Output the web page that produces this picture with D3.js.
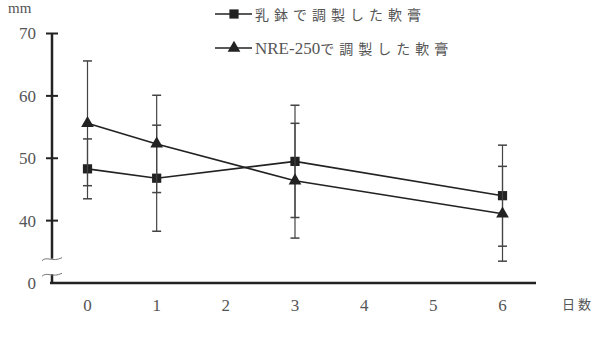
<!DOCTYPE html>
<html>
<head>
<meta charset="utf-8">
<script src="https://cdnjs.cloudflare.com/ajax/libs/d3/7.8.5/d3.min.js"></script>
<style>
  body { margin: 0; background: #fff; }
  svg { display: block; }
  .num { font-family: "Liberation Serif", "DejaVu Serif", "Times New Roman", serif; }
  .jp { font-family: "Noto Sans CJK JP", "Noto Sans CJK SC", sans-serif; }
</style>
</head>
<body>
<div class="svgContainer"></div>
<script>
// Data
var DAYS = [0, 1, 2, 3, 4, 5, 6];
var SERIES_LATIN = ["", "NRE-250"];
var SERIES_JP = ["乳鉢で調製した軟膏", "で調製した軟膏"];
var MORTAR_DAYS = [0, 1, 3, 6];
var MORTAR_MEAN = [48.3, 46.8, 49.5, 44.0];
var MORTAR_SD = [4.8, 8.5, 9.0, 8.1];
var NRE_DAYS = [0, 1, 3, 6];
var NRE_MEAN = [55.6, 52.3, 46.4, 41.1];
var NRE_SD = [10.0, 7.8, 9.2, 7.6];
var Y_TICKS = [0, 40, 50, 60, 70];
// End data

var margin = {left: 52, right: 64, top: 33.5, bottom: 54},
    width = 600 - margin.left - margin.right,
    height = 337 - margin.top - margin.bottom;

var svg = d3.select(".svgContainer").append("svg")
    .attr("width", 600)
    .attr("height", 337)
    .append("g")
    .attr("transform", "translate(" + margin.left + "," + margin.top + ")");

var INK = "#222";
var TXT = "#555";

// x: day 0 at 87.5px, day 6 at 502.5px (page coords)
var scaleX = d3.scaleLinear()
    .domain([0, 6])
    .range([87.5 - margin.left, 502.5 - margin.left]);

// broken axis: 0 sits where 30 would be
var scaleY = d3.scaleLinear()
    .domain([0, 30, 70])
    .range([height, height, 0]);

// y axis line with break
var yBreakTop = scaleY(33.9), yBreakBot = scaleY(31.4);
svg.append("line")
    .attr("x1", 0).attr("x2", 0)
    .attr("y1", 0).attr("y2", yBreakTop)
    .attr("stroke", INK).attr("stroke-width", 2.5);
svg.append("line")
    .attr("x1", 0).attr("x2", 0)
    .attr("y1", yBreakBot).attr("y2", height)
    .attr("stroke", INK).attr("stroke-width", 2.5);

// break squiggles
[yBreakTop, yBreakBot].forEach(function(yy) {
    svg.append("path")
        .attr("d", "M-10," + (yy + 2) + " C-5," + (yy - 3) + " 0," + (yy + 4) + " 10," + (yy - 1))
        .attr("fill", "none")
        .attr("stroke", "#777")
        .attr("stroke-width", 1);
});

// y ticks (crossing both sides)
svg.selectAll(".ytick")
    .data(Y_TICKS.filter(function(d) { return d > 0; }))
    .enter().append("line")
    .attr("x1", -6).attr("x2", 6)
    .attr("y1", function(d) { return scaleY(d); })
    .attr("y2", function(d) { return scaleY(d); })
    .attr("stroke", INK).attr("stroke-width", 2);

svg.selectAll(".ylab")
    .data(Y_TICKS)
    .enter().append("text")
    .attr("class", "num")
    .attr("x", -16)
    .attr("y", function(d) { return scaleY(d); })
    .attr("dy", "0.35em")
    .attr("text-anchor", "end")
    .attr("font-size", 17)
    .attr("fill", TXT)
    .text(function(d) { return d; });

// x axis line
svg.append("line")
    .attr("x1", -2).attr("x2", 536 - margin.left)
    .attr("y1", height).attr("y2", height)
    .attr("stroke", INK).attr("stroke-width", 2.5);

svg.selectAll(".xlab")
    .data(DAYS)
    .enter().append("text")
    .attr("class", "num")
    .attr("x", function(d) { return scaleX(d); })
    .attr("y", height + 22)
    .attr("dy", "0.35em")
    .attr("text-anchor", "middle")
    .attr("font-size", 17)
    .attr("fill", TXT)
    .text(function(d) { return d; });

// axis titles
svg.append("text")
    .attr("class", "num")
    .attr("x", 8 - margin.left)
    .attr("y", 13 - margin.top)
    .attr("font-size", 15)
    .attr("fill", TXT)
    .text("mm");

svg.append("text")
    .attr("class", "jp")
    .attr("x", 562 - margin.left)
    .attr("y", height + 21)
    .attr("dy", "0.35em")
    .attr("font-size", 13)
    .attr("letter-spacing", 3)
    .attr("fill", TXT)
    .text("日数");

// series
var series = [
    {latin: SERIES_LATIN[0], jp: SERIES_JP[0], days: MORTAR_DAYS, mean: MORTAR_MEAN, sd: MORTAR_SD, symbol: d3.symbolSquare, size: 85},
    {latin: SERIES_LATIN[1], jp: SERIES_JP[1], days: NRE_DAYS, mean: NRE_MEAN, sd: NRE_SD, symbol: d3.symbolTriangle, size: 70}
];

var line = d3.line()
    .x(function(d) { return scaleX(d.day); })
    .y(function(d) { return scaleY(d.mean); });

series.forEach(function(s) {
    var pts = s.days.map(function(day, i) { return {day: day, mean: s.mean[i], sd: s.sd[i]}; });

    // error bars
    var eb = svg.append("g").selectAll("g")
        .data(pts)
        .enter().append("g");
    eb.append("line")
        .attr("x1", function(d) { return scaleX(d.day); })
        .attr("x2", function(d) { return scaleX(d.day); })
        .attr("y1", function(d) { return scaleY(d.mean - d.sd); })
        .attr("y2", function(d) { return scaleY(d.mean + d.sd); })
        .attr("stroke", "#444").attr("stroke-width", 1.2);
    [-1, 1].forEach(function(sign) {
        eb.append("line")
            .attr("x1", function(d) { return scaleX(d.day) - 4.5; })
            .attr("x2", function(d) { return scaleX(d.day) + 4.5; })
            .attr("y1", function(d) { return scaleY(d.mean + sign * d.sd); })
            .attr("y2", function(d) { return scaleY(d.mean + sign * d.sd); })
            .attr("stroke", "#444").attr("stroke-width", 1.5);
    });

    svg.append("path")
        .datum(pts)
        .attr("d", line)
        .attr("fill", "none")
        .attr("stroke", INK)
        .attr("stroke-width", 1.6);

    svg.selectAll(null)
        .data(pts)
        .enter().append("path")
        .attr("d", d3.symbol().type(s.symbol).size(s.size))
        .attr("transform", function(d) { return "translate(" + scaleX(d.day) + "," + scaleY(d.mean) + ")"; })
        .attr("fill", INK);
});

// legend
var legend = svg.append("g")
    .attr("transform", "translate(" + (215 - margin.left) + "," + (14 - margin.top) + ")");
var li = legend.selectAll("g")
    .data(series)
    .enter().append("g")
    .attr("transform", function(d, i) { return "translate(0," + (i * 34) + ")"; });
li.append("line")
    .attr("x1", 0).attr("x2", 37)
    .attr("y1", 0).attr("y2", 0)
    .attr("stroke", INK).attr("stroke-width", 1.6);
li.append("path")
    .attr("d", function(d) { return d3.symbol().type(d.symbol).size(d.size)(); })
    .attr("transform", "translate(19,0)")
    .attr("fill", INK);
var lt = li.append("text")
    .attr("x", 40)
    .attr("y", 0)
    .attr("dy", "0.35em")
    .attr("fill", TXT);
lt.append("tspan")
    .attr("class", "num")
    .attr("font-size", 17)
    .text(function(d) { return d.latin; });
lt.append("tspan")
    .attr("class", "jp")
    .attr("font-size", 14)
    .attr("letter-spacing", 5)
    .text(function(d) { return d.jp; });
</script>
</body>
</html>
